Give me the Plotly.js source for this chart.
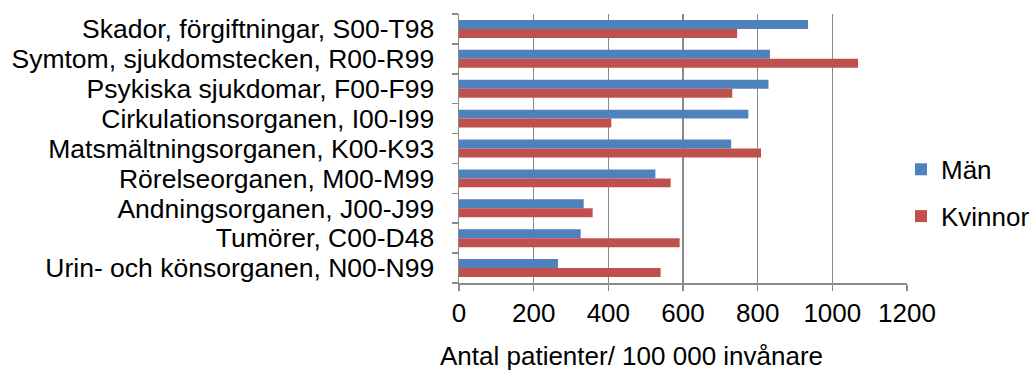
<!DOCTYPE html>
<html>
<head>
<meta charset="utf-8">
<script src="https://cdn.plot.ly/plotly-3.0.1.min.js"></script>
<style>html,body{margin:0;padding:0;background:#fff;}#chart{width:1031px;height:372px;}</style>
</head>
<body>
<div id="chart"></div>
<script>
const categories = [
  "Skador, förgiftningar, S00-T98",
  "Symtom, sjukdomstecken, R00-R99",
  "Psykiska sjukdomar, F00-F99",
  "Cirkulationsorganen, I00-I99",
  "Matsmältningsorganen, K00-K93",
  "Rörelseorganen, M00-M99",
  "Andningsorganen, J00-J99",
  "Tumörer, C00-D48",
  "Urin- och könsorganen, N00-N99"
];
const man = [935, 833, 829, 775, 729, 526, 334, 326, 265];
const kvinnor = [745, 1069, 732, 408, 809, 567, 358, 591, 540];
const xTicks = [0, 200, 400, 600, 800, 1000, 1200];
const xTitle = "Antal patienter/ 100 000 invånare";

const FONT = "Liberation Sans, Arial, sans-serif";
const traces = [
  {type: "bar", orientation: "h", name: "Män", y: categories, x: man,
   marker: {color: "#4F81BD"}, legendgroup: "a"},
  {type: "bar", orientation: "h", name: "Kvinnor", y: categories, x: kvinnor,
   marker: {color: "#C0504D"}, legendgroup: "b"}
];
const layout = {
  width: 1031, height: 372,
  margin: {l: 459, r: 124, t: 14, b: 89, pad: 0, autoexpand: false},
  paper_bgcolor: "#fff", plot_bgcolor: "#fff",
  font: {family: FONT, size: 26, color: "#000"},
  barmode: "group", bargap: 0.4, bargroupgap: 0,
  showlegend: true,
  legend: {x: 0.9866, xref: "paper", y: 0.335, xanchor: "left", yanchor: "middle",
           traceorder: "grouped", tracegroupgap: 10, bgcolor: "rgba(0,0,0,0)",
           font: {family: FONT, size: 26, color: "#000"}, itemwidth: 30},
  xaxis: {range: [0, 1200], tickmode: "array", tickvals: xTicks, ticktext: xTicks.map(String),
          showgrid: true, gridcolor: "#8a8a8a", gridwidth: 1.5,
          showline: true, linecolor: "#8a8a8a", linewidth: 1.5,
          ticks: "outside", ticklen: 6, tickcolor: "#8a8a8a", tickwidth: 1.5,
          zeroline: false, fixedrange: true,
          tickfont: {family: FONT, size: 26, color: "#000"}},
  yaxis: {type: "category", autorange: "reversed", categoryorder: "array", categoryarray: categories,
          tickmode: "array", tickvals: categories, ticktext: categories,
          showline: true, linecolor: "#8a8a8a", linewidth: 1.5,
          ticks: "outside", ticklen: 6, tickcolor: "#8a8a8a", tickwidth: 1.5,
          tickson: "boundaries", showgrid: false, ticklabelstandoff: 18,
          tickfont: {family: FONT, size: 26.5, color: "#000"}},
  annotations: [{text: xTitle, xref: "paper", yref: "paper",
                 x: (631 - 459) / 448, y: (283 - 356) / 269,
                 xanchor: "center", yanchor: "middle", showarrow: false,
                 font: {family: FONT, size: 26, color: "#000"}}]
};
Plotly.newPlot("chart", traces, layout, {staticPlot: true, displayModeBar: false});
</script>
</body>
</html>
